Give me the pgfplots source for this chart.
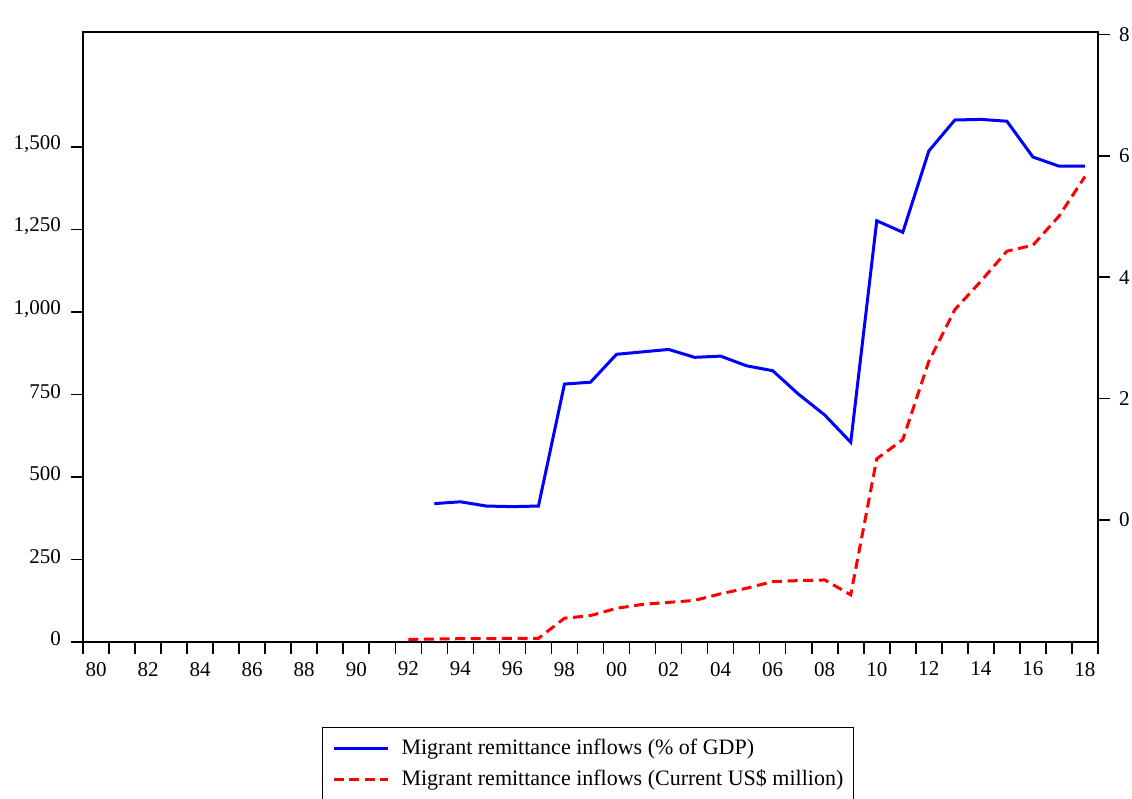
\documentclass[border=0pt]{standalone}
\usepackage{fontspec}
\setmainfont{Liberation Serif}
\usepackage{pgfplots}
\pgfplotsset{compat=1.18}
\begin{document}
\begin{tikzpicture}
\pgfplotsset{
  common/.style={
    scale only axis, width=507.5pt, height=305pt,
    xmin=1979.5, xmax=2018.5,
    tick align=outside,
    major tick length=0pt, minor tick length=6pt,
    every tick/.style={black, line width=0.8pt},
    axis line style={line width=1pt},
    /pgf/number format/assume math mode=true,
    tick label style={font=\fontsize{10.5}{12}\selectfont},
  }
}
\begin{axis}[common,
  ymin=0, ymax=1848,
  xtick={1980,1982,...,2018},
  xticklabels={80,82,84,86,88,90,92,94,96,98,00,02,04,06,08,10,12,14,16,18},
  minor xtick={1979.5,1980.5,...,2018.5},
  xtick pos=bottom, ytick pos=left,
  ytick={0,250,...,1500},
  minor ytick={0,250,...,1500},
  yticklabel style={yshift=1.5pt, xshift=-7.5pt},
  xticklabel style={yshift=-6.5pt},
  /pgf/number format/1000 sep={,},
  legend style={draw=black, line width=0.5pt, fill=white,
    at={(0.2355,-0.1393)}, anchor=north west,
    inner xsep=3pt, inner ysep=4pt, row sep=2pt,
    font=\fontsize{11}{12}\selectfont,
    nodes={inner sep=2pt}},
  legend cell align=left,
  legend image code/.code={\path[draw=none,fill=none] (0pt,0pt) -- (34.5pt,0pt); \draw[#1] (2.5pt,0pt) -- (29.5pt,0pt);},
]
\addlegendimage{blue, line width=1.5pt}
\addlegendentry{Migrant remittance inflows (\% of GDP)}
\addplot[red, line width=1.5pt, dash pattern=on 5pt off 2.8pt] coordinates {
(1992,8) (1993,9) (1994,10) (1995,10) (1996,11) (1997,11) (1998,72) (1999,80)
(2000,102) (2001,114) (2002,120) (2003,126) (2004,146) (2005,163) (2006,183)
(2007,186) (2008,188) (2009,143) (2010,555) (2011,613) (2012,850) (2013,1007)
(2014,1093) (2015,1184) (2016,1202) (2017,1290) (2018,1410)
};
\addlegendentry{Migrant remittance inflows (Current US\$ million)}
\end{axis}
\begin{axis}[common,
  ymin=-2.01, ymax=8.04,
  axis x line=none,
  axis y line*=right,
  ytick={0,2,4,6,8},
  minor ytick={0,2,4,6,8},
  yticklabel style={xshift=7pt},
]
\addplot[blue, line width=1.5pt] coordinates {
(1993,0.27) (1994,0.30) (1995,0.23) (1996,0.22) (1997,0.23) (1998,2.24) (1999,2.27)
(2000,2.73) (2001,2.77) (2002,2.81) (2003,2.68) (2004,2.70) (2005,2.54) (2006,2.46)
(2007,2.07) (2008,1.73) (2009,1.28) (2010,4.93) (2011,4.74) (2012,6.08) (2013,6.59)
(2014,6.60) (2015,6.57) (2016,5.98) (2017,5.83) (2018,5.83)
};
\end{axis}
\pgfresetboundingbox
\useasboundingbox (-41.5pt,-78.5pt) rectangle (524.5pt,321pt);
\end{tikzpicture}
\end{document}
